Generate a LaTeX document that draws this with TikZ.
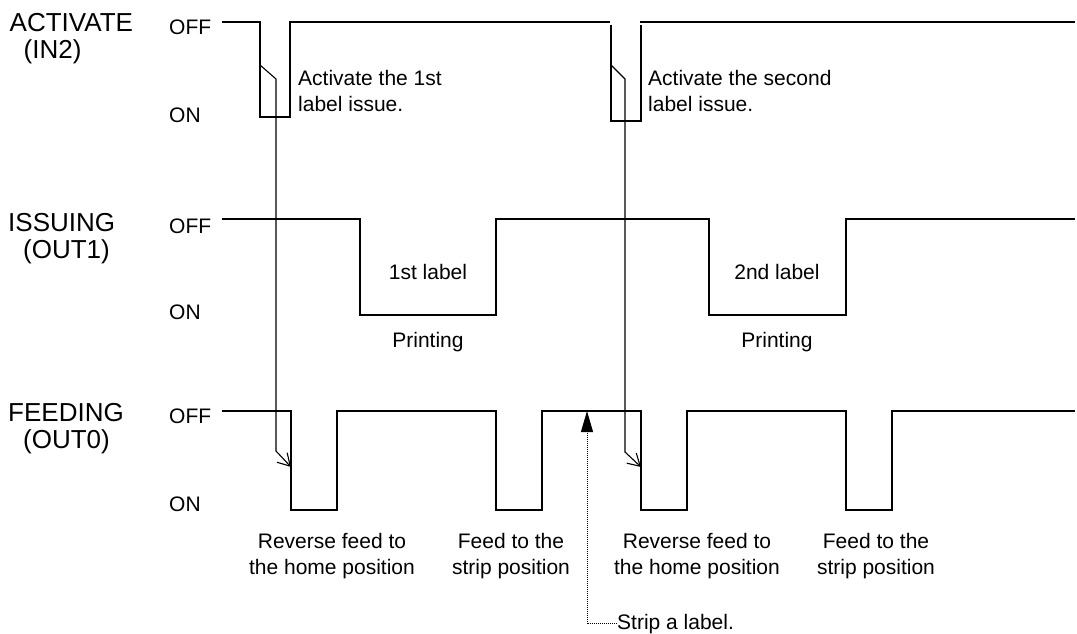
\documentclass[tikz,border=0pt]{standalone}
\usepackage{fontspec}
\setmainfont{Liberation Sans}
\usetikzlibrary{arrows.meta}
\begin{document}
\begin{tikzpicture}[x=1pt,y=-1pt,
  sig/.style={line width=1.8pt, line join=miter},
  trig/.style={line width=1.1pt, -{Straight Barb[length=12pt,width=14pt]}},
  big/.style={font=\fontsize{26}{27}\selectfont, inner sep=0pt, align=left, anchor=base west},
  lvl/.style={font=\fontsize{21}{26}\selectfont, inner sep=0pt, anchor=base west},
  note/.style={font=\fontsize{21}{26}\selectfont, inner sep=0pt, align=left, anchor=base west},
  cnote/.style={font=\fontsize{21}{26}\selectfont, inner sep=0pt, align=center, anchor=base},
  stripline/.style={line width=1pt, densely dotted, -{Triangle[length=21pt,width=12pt]}},
]
\useasboundingbox (0,0) rectangle (1077,634);

% signal names (anchor = baseline of the last line)
\node[big] (nAct) at (9.5,59) {ACTIVATE\\\hspace*{14pt}(IN2)};
\node[big] (nIss) at (8,258) {ISSUING\\\hspace*{15pt}(OUT1)};
\node[big] (nFeed) at (8,448) {FEEDING\\\hspace*{15pt}(OUT0)};

% levels
\node[lvl] (offA) at (169,35) {OFF};
\node[lvl] (onA) at (169,122) {ON};
\node[lvl] (offI) at (169,233) {OFF};
\node[lvl] (onI) at (169,319) {ON};
\node[lvl] (offF) at (169,423) {OFF};
\node[lvl] (onF) at (169,511) {ON};

% ACTIVATE signal
\draw[sig] (222,22) -- (260,22) -- (260,117) -- (290,117) -- (290,22) -- (610,22);
\draw[sig] (611,25) -- (611,121) -- (641,121) -- (641,25);
\draw[sig] (640,22) -- (1075,22);

% ISSUING signal
\draw[sig] (222,219) -- (360,219) -- (360,315) -- (496,315) -- (496,219)
  -- (709,219) -- (709,315) -- (846,315) -- (846,219) -- (1075,219);

% FEEDING signal
\draw[sig] (222,411) -- (291,411) -- (291,510) -- (337,510) -- (337,411)
  -- (496,411) -- (496,510) -- (542,510) -- (542,411)
  -- (641,411) -- (641,510) -- (687,510) -- (687,411)
  -- (846,411) -- (846,510) -- (892,510) -- (892,411) -- (1075,411);

% trigger arrows
\coordinate (a1s) at (260,65);
\coordinate (a1k) at (276,79);
\coordinate (a1m) at (276,451);
\coordinate (a1t) at (291,467);
\draw[trig] (a1s) -- (a1k) -- (a1m) -- (a1t);
\coordinate (a2s) at (611,65);
\coordinate (a2k) at (625,79);
\coordinate (a2m) at (625,452);
\coordinate (a2t) at (641,467);
\draw[trig] (a2s) -- (a2k) -- (a2m) -- (a2t);

% notes (anchor = baseline of the last line)
\node[note] (act1) at (298,111) {Activate the 1st\\label issue.};
\node[note] (act2) at (648,111) {Activate the second\\label issue.};
\node[cnote] (lab1) at (428,279) {1st label};
\node[cnote] (pr1) at (428,347) {Printing};
\node[cnote] (lab2) at (777,279) {2nd label};
\node[cnote] (pr2) at (777,347) {Printing};
\node[cnote] (rev1) at (332,574) {Reverse feed to\\the home position};
\node[cnote] (fd1) at (511,574) {Feed to the\\strip position};
\node[cnote] (rev2) at (697,574) {Reverse feed to\\the home position};
\node[cnote] (fd2) at (876,574) {Feed to the\\strip position};

% strip
\node[note] (strip) at (617,629) {Strip a label.};
\coordinate (stripT) at (587,411);
\draw[stripline] (strip.west) -| (stripT);
\end{tikzpicture}
\end{document}
